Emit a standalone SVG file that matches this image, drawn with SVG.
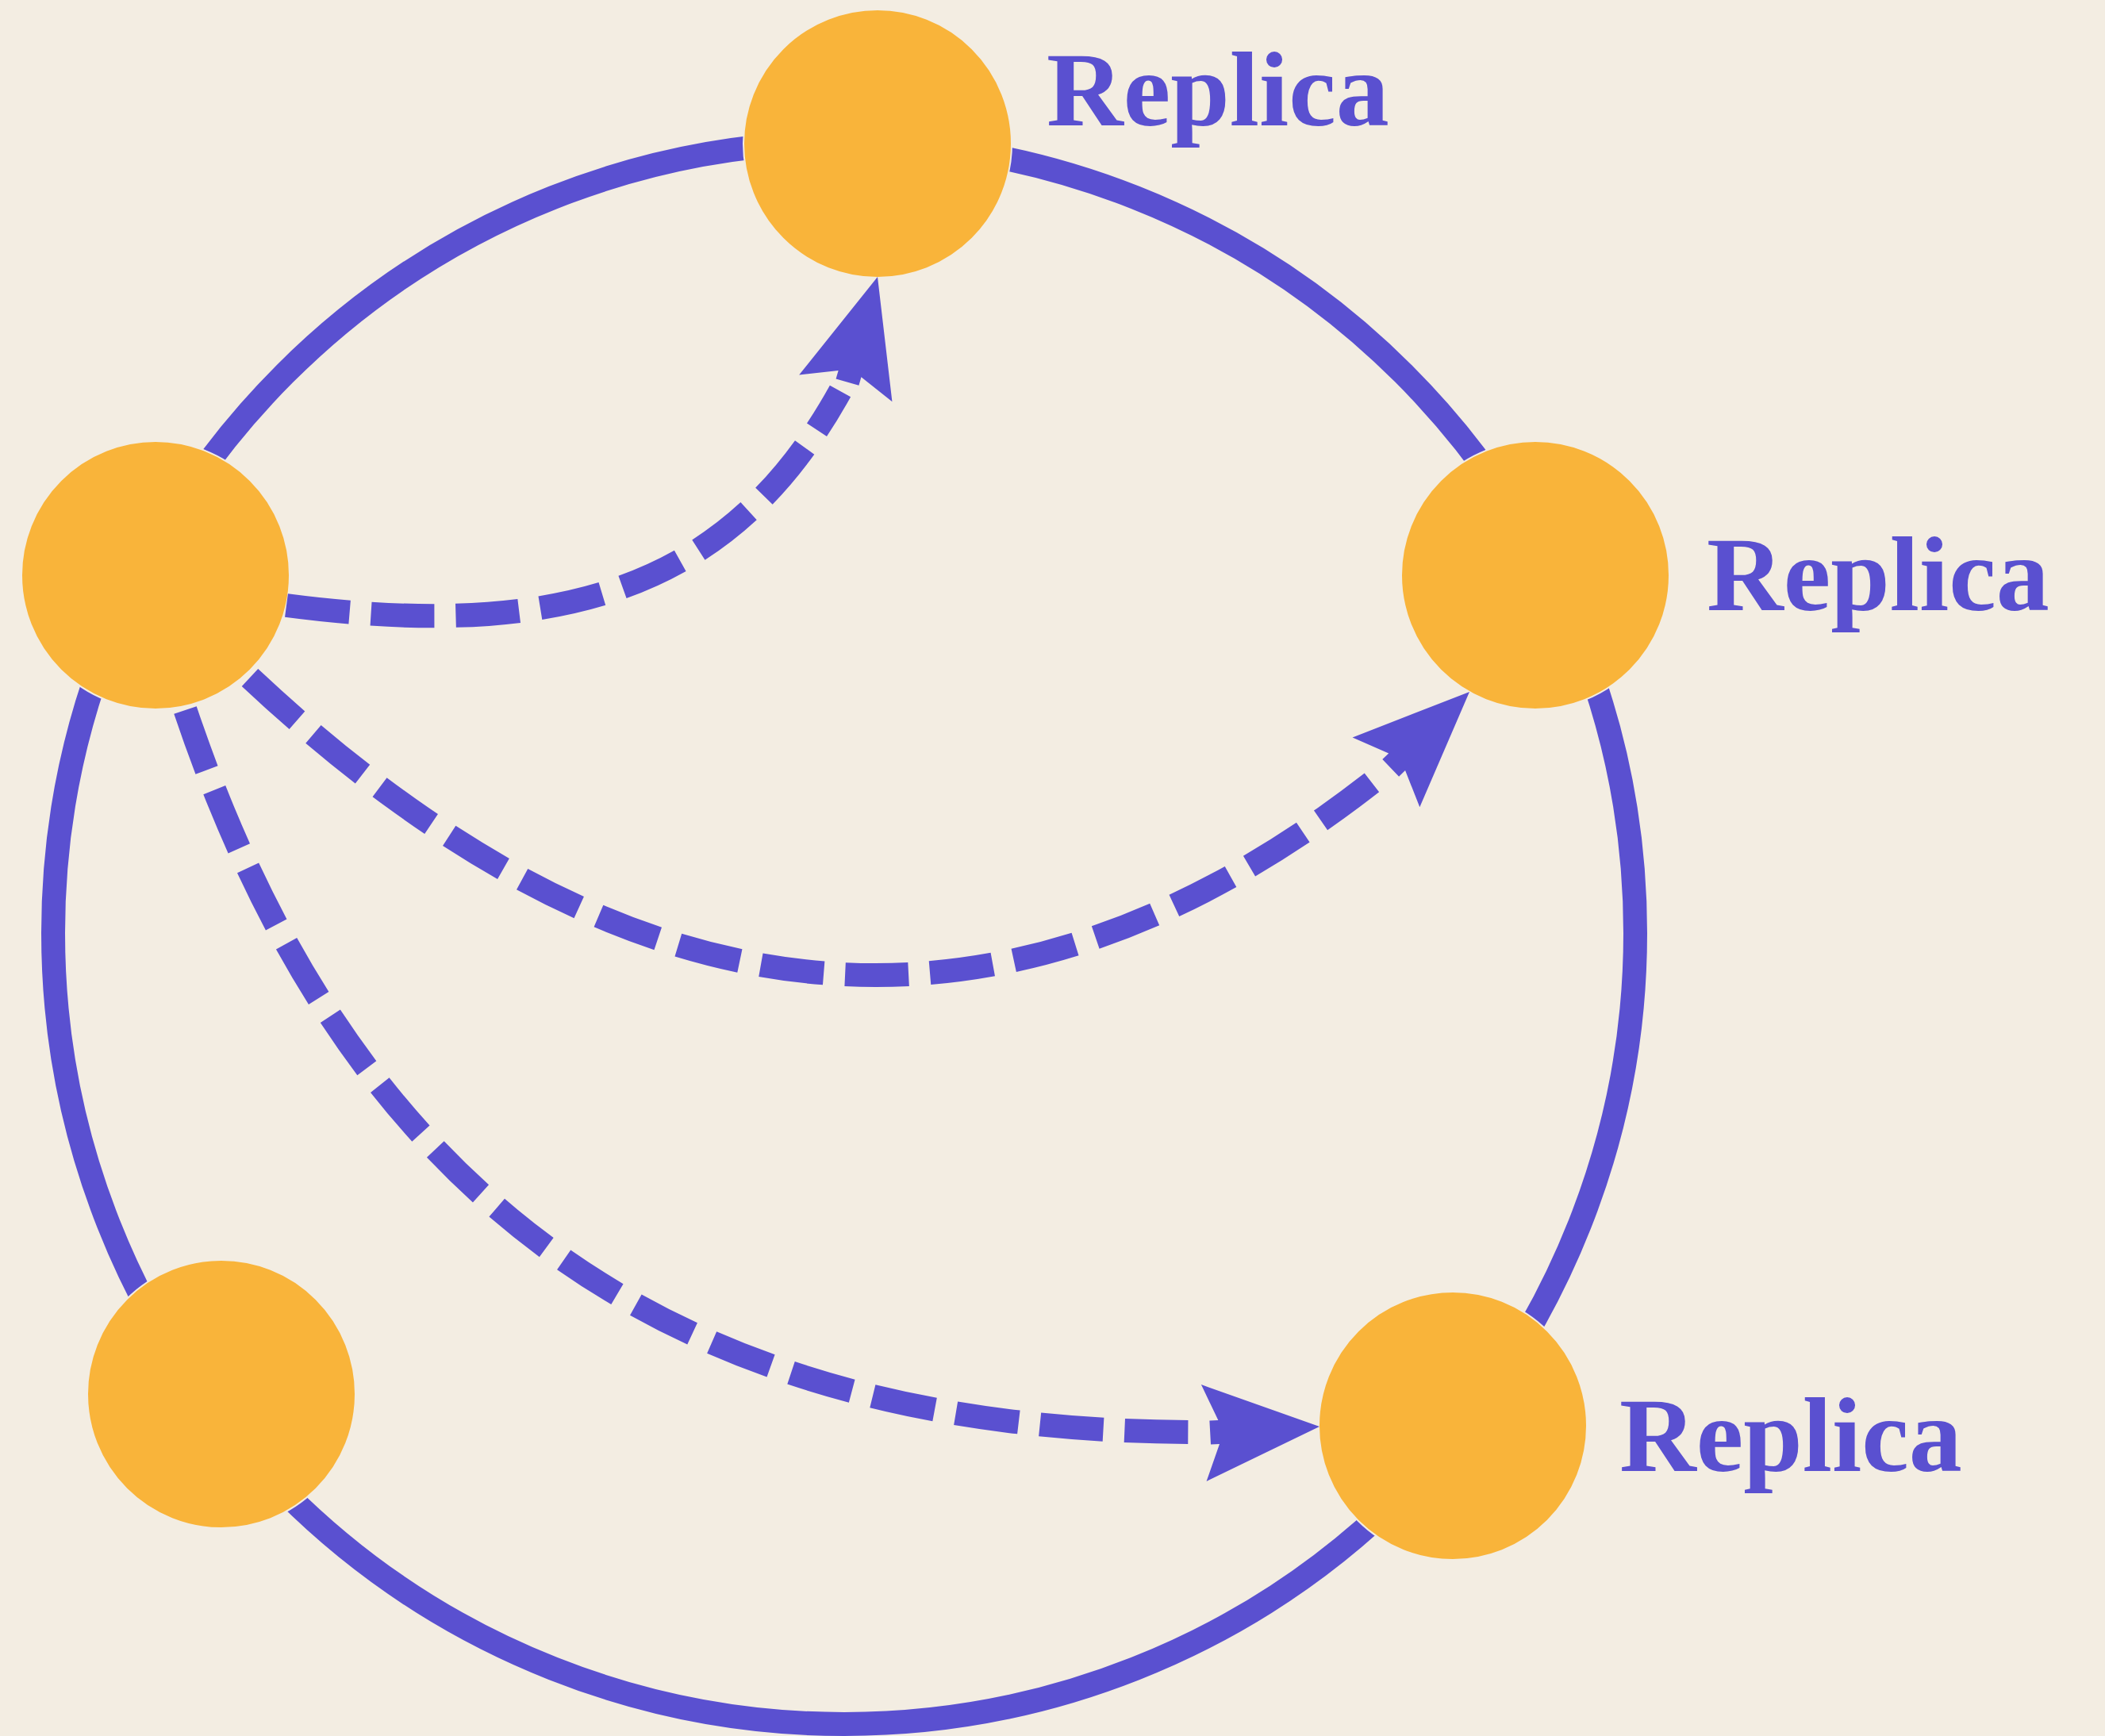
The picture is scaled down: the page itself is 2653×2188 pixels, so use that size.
<svg xmlns="http://www.w3.org/2000/svg" width="2653" height="2188" viewBox="0 0 2653 2188">
  <defs>
    <style>
      .bg { fill: #F3EDE2; }
      .ring { fill: none; stroke: #5A50D0; stroke-width: 30; }
      .node { fill: #F9B43A; stroke: #F3EDE2; stroke-width: 2; }
      .flow { fill: none; stroke: #5A50D0; stroke-width: 30; stroke-dasharray: 80 27; }
      .head { fill: none; stroke: none; marker-end: url(#arrow); }
      .label { font-family: "Liberation Serif", "DejaVu Serif", serif; font-weight: 700; font-size: 134px; fill: #5A50D0; }
    </style>
    <!-- notched arrowhead with a short shaft stub; tip sits on the reference point -->
    <marker id="arrow" markerUnits="userSpaceOnUse" viewBox="-150 -62 152 124" refX="0" refY="0" markerWidth="152" markerHeight="124" orient="auto" overflow="visible">
      <path d="M0,0 L-146,-61 L-127,-15 L-138,-15 L-138,15 L-127,15 L-146,61 Z" fill="#5A50D0"/>
    </marker>
  </defs>

  <rect class="bg" x="0" y="0" width="2653" height="2188"/>

  <!-- ring joining all replicas -->
  <g id="ring">
    <circle class="ring" cx="1064" cy="1176" r="997"/>
  </g>

  <!-- nodes -->
  <g id="node-top">
    <circle class="node" cx="1106" cy="181" r="169"/>
    <text class="label" x="1319" y="158">Replica</text>
  </g>
  <g id="node-leader">
    <circle class="node" cx="196" cy="725" r="169"/>
  </g>
  <g id="node-right">
    <circle class="node" cx="1935" cy="725" r="169"/>
    <text class="label" x="2151" y="769">Replica</text>
  </g>
  <g id="node-bottom-left">
    <circle class="node" cx="279" cy="1757" r="169"/>
  </g>
  <g id="node-bottom-right">
    <circle class="node" cx="1831" cy="1797" r="169"/>
    <text class="label" x="2041" y="1854">Replica</text>
  </g>

  <!-- replication flows from the leader -->
  <g id="connectors">
    <path class="flow" d="M361,763 C723.8,810.6 926.4,732.2 1059,493"/>
    <path class="head" d="M1100.5,368.2 L1106,349"/>

    <path class="flow" d="M315,854 C800,1309 1270,1350 1741,977"/>
    <path class="head" d="M1837.6,885.9 L1852,872"/>

    <path class="flow" d="M233.5,895 C441.7,1513.9 850.4,1805.1 1510.6,1805.1"/>
    <path class="head" d="M1643,1799.1 L1663,1798"/>
  </g>
</svg>
